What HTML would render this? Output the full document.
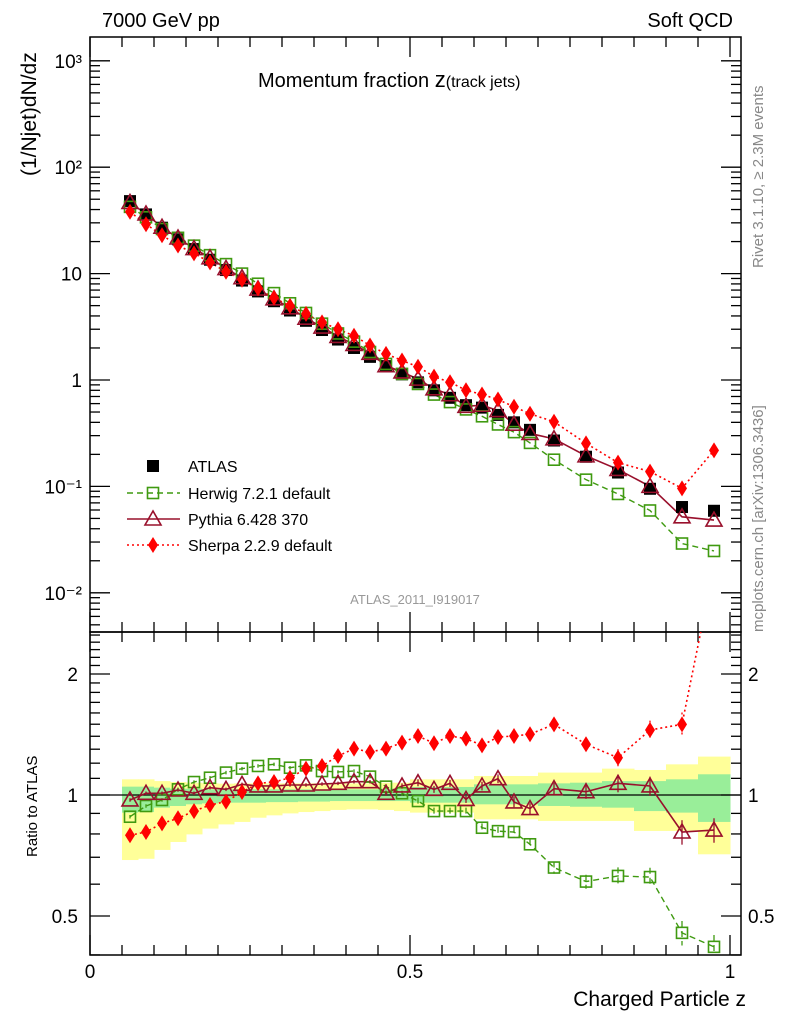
<!DOCTYPE html>
<html><head><meta charset="utf-8"><style>
body{margin:0;background:#fff}
svg text{font-family:"Liberation Sans",Arial,sans-serif}
</style></head><body>
<svg id="c" width="786" height="1024" xmlns="http://www.w3.org/2000/svg">
<defs>
<clipPath id="clipMain"><rect x="90" y="37" width="651" height="595"/></clipPath>
<clipPath id="clipRat"><rect x="90" y="632" width="651" height="323"/></clipPath>
</defs>
<g id="bands" clip-path="url(#clipRat)"></g>
<g id="axes"></g>
<g id="series"></g>
<text x="102" y="27" font-size="20">7000 GeV pp</text>
<text x="733" y="27" font-size="20" text-anchor="end">Soft QCD</text>
<text x="258" y="87" font-size="20">Momentum fraction <tspan font-size="22">z</tspan><tspan font-size="16">(track jets)</tspan></text>
<text x="415" y="604" font-size="13" fill="#999" text-anchor="middle">ATLAS_2011_I919017</text>
<text transform="translate(36,176) rotate(-90)" font-size="21">(1/Njet)dN/dz</text>
<text transform="translate(37,857) rotate(-90)" font-size="15">Ratio to ATLAS</text>
<text x="746" y="1006" font-size="21" text-anchor="end">Charged Particle z</text>
<text transform="translate(763,268) rotate(-90)" font-size="15" fill="#888">Rivet 3.1.10, ≥ 2.3M events</text>
<text transform="translate(763,632) rotate(-90)" font-size="15" fill="#888">mcplots.cern.ch [arXiv:1306.3436]</text>
</svg>
<script>
const zCenters=[0.0625,0.0875,0.1125,0.1375,0.1625,0.1875,0.2125,0.2375,0.2625,0.2875,0.3125,0.3375,0.3625,0.3875,0.4125,0.4375,0.4625,0.4875,0.5125,0.5375,0.5625,0.5875,0.6125,0.6375,0.6625,0.6875,0.725,0.775,0.825,0.875,0.925,0.975];
const zLo=[0.05,0.075,0.1,0.125,0.15,0.175,0.2,0.225,0.25,0.275,0.3,0.325,0.35,0.375,0.4,0.425,0.45,0.475,0.5,0.525,0.55,0.575,0.6,0.625,0.65,0.675,0.7,0.75,0.8,0.85,0.9,0.95];
const zHi=[0.075,0.1,0.125,0.15,0.175,0.2,0.225,0.25,0.275,0.3,0.325,0.35,0.375,0.4,0.425,0.45,0.475,0.5,0.525,0.55,0.575,0.6,0.625,0.65,0.675,0.7,0.75,0.8,0.85,0.9,0.95,1.0];
const atlas=[48,36,27,21,17,13.5,10.8,8.6,6.8,5.5,4.5,3.6,2.95,2.4,2.0,1.65,1.35,1.13,0.95,0.8,0.68,0.58,0.55,0.47,0.40,0.34,0.27,0.19,0.135,0.095,0.064,0.059];
const herwigRatio=[0.883,0.939,0.972,1.033,1.077,1.104,1.137,1.163,1.181,1.192,1.169,1.185,1.147,1.141,1.147,1.111,1.049,1.01,0.966,0.912,0.912,0.912,0.829,0.813,0.809,0.754,0.66,0.609,0.629,0.625,0.454,0.419];
const pythiaRatio=[0.972,1.01,1.01,1.029,1.01,1.043,1.033,1.063,1.053,1.053,1.059,1.059,1.065,1.069,1.079,1.079,1.01,1.053,1.073,1.033,1.069,0.975,1.053,1.098,0.961,0.925,1.037,1.019,1.069,1.053,0.809,0.818];
const sherpaRatio=[0.794,0.809,0.85,0.875,0.912,0.944,0.963,1.017,1.069,1.077,1.104,1.163,1.181,1.25,1.304,1.279,1.304,1.35,1.402,1.345,1.402,1.381,1.329,1.394,1.402,1.416,1.499,1.337,1.238,1.451,1.499,3.7];
const mcErr=[0.01,0.01,0.01,0.01,0.01,0.01,0.01,0.01,0.01,0.01,0.01,0.01,0.01,0.01,0.01,0.01,0.015,0.015,0.02,0.02,0.02,0.02,0.025,0.025,0.03,0.03,0.035,0.04,0.05,0.055,0.07,0.07];
const yellowHi=[1.094,1.094,1.083,1.077,1.073,1.069,1.067,1.069,1.069,1.069,1.069,1.069,1.069,1.069,1.069,1.069,1.073,1.073,1.094,1.094,1.094,1.094,1.115,1.115,1.115,1.115,1.137,1.137,1.163,1.154,1.192,1.246];
const greenHi=[1.049,1.049,1.043,1.037,1.037,1.033,1.033,1.033,1.033,1.033,1.033,1.033,1.033,1.033,1.033,1.033,1.037,1.037,1.047,1.047,1.047,1.047,1.063,1.063,1.063,1.063,1.069,1.073,1.083,1.083,1.094,1.126];
const greenLo=[0.904,0.907,0.93,0.939,0.948,0.953,0.957,0.957,0.957,0.96,0.96,0.963,0.963,0.966,0.966,0.966,0.966,0.966,0.957,0.957,0.957,0.957,0.948,0.948,0.948,0.948,0.939,0.935,0.93,0.912,0.904,0.857];
const yellowLo=[0.689,0.694,0.73,0.764,0.798,0.825,0.845,0.857,0.878,0.89,0.9,0.907,0.912,0.918,0.921,0.921,0.918,0.912,0.904,0.904,0.904,0.904,0.87,0.87,0.87,0.87,0.862,0.862,0.862,0.814,0.814,0.712];
const mainTicks=["10³","10²","10","1","10⁻¹","10⁻²"];
const mainTickVals=[1000,100,10,1,0.1,0.01];
const ratioTickVals=[2,1,0.5];
const ratioTickLabels=["2","1","0.5"];
const xTickVals=[0,0.5,1];
const xTickLabels=["0","0.5","1"];

const NS="http://www.w3.org/2000/svg";
const X=z=>90+z*640;
const Y=v=>380-Math.log10(v)*106.4;
const R=r=>795-Math.log2(r)*121;
function mk(tag,attrs,parent){const e=document.createElementNS(NS,tag);for(const k in attrs)e.setAttribute(k,attrs[k]);parent.appendChild(e);return e;}
const axes=document.getElementById('axes'),ser=document.getElementById('series'),bands=document.getElementById('bands');

for(let i=0;i<zLo.length;i++){
 let r=mk('rect',{x:X(zLo[i]),y:R(yellowHi[i]),width:X(zHi[i])-X(zLo[i])+0.5,height:R(yellowLo[i])-R(yellowHi[i]),fill:'#ffff99'},bands);
 
 
 let g=mk('rect',{x:X(zLo[i]),y:R(greenHi[i]),width:X(zHi[i])-X(zLo[i])+0.5,height:R(greenLo[i])-R(greenHi[i]),fill:'#99ee99'},bands);
 
 
}
let f1=mk('rect',{x:90,y:37,width:651,height:595,fill:'none',stroke:'#000','stroke-width':1.5},axes);


let f2=mk('rect',{x:90,y:632,width:651,height:323,fill:'none',stroke:'#000','stroke-width':1.5},axes);


mk('line',{x1:90,x2:741,y1:R(1),y2:R(1),stroke:'#000','stroke-width':1.3},axes);
for(let d=-3;d<=3;d++){for(let m=1;m<10;m++){const v=m*Math.pow(10,d);const y=Y(v);if(y<37||y>632)continue;const L=m==1?20:10;
 mk('line',{x1:90,x2:90+L,y1:y,y2:y,stroke:'#000','stroke-width':1.3},axes);
 mk('line',{x1:741-L,x2:741,y1:y,y2:y,stroke:'#000','stroke-width':1.3},axes);}}
for(let i=0;i<mainTickVals.length;i++){const t=mk('text',{x:82,y:Y(mainTickVals[i])+7,'font-size':19,'text-anchor':'end'},axes);t.textContent=mainTicks[i];
 
 }
for(let v=0.4;v<=2.6;v+=0.1){const vv=Math.round(v*10)/10;const y=R(vv);if(y<632||y>955)continue;const L=(vv==0.5||vv==1||vv==2)?20:10;
 mk('line',{x1:90,x2:90+L,y1:y,y2:y,stroke:'#000','stroke-width':1.3},axes);
 mk('line',{x1:741-L,x2:741,y1:y,y2:y,stroke:'#000','stroke-width':1.3},axes);}
for(let i=0;i<ratioTickVals.length;i++){const y=R(ratioTickVals[i])+7;
 const t=mk('text',{x:78,y:y,'font-size':19,'text-anchor':'end'},axes);t.textContent=ratioTickLabels[i];
 
 
 const t2=mk('text',{x:748,y:y,'font-size':19},axes);t2.textContent=ratioTickLabels[i];
 
 }
for(let k=0;k<=20;k++){const z=k*0.05,x=X(z);const L=(k%10==0)?20:10;
 for(const [yb,dir] of [[632,-1],[37,1],[955,-1],[632,1]]) mk('line',{x1:x,x2:x,y1:yb,y2:yb+dir*L,stroke:'#000','stroke-width':1.3},axes);}
for(let i=0;i<xTickVals.length;i++){const t=mk('text',{x:X(xTickVals[i]),y:978,'font-size':19,'text-anchor':'middle'},axes);t.textContent=xTickLabels[i];
 
 }

function marker(type,x,y,color,g){const s=6;
 if(type=='sq')return mk('rect',{x:x-s,y:y-s,width:2*s,height:2*s,fill:'#000'},g);
 if(type=='osq')return mk('rect',{x:x-s+0.5,y:y-s+0.5,width:2*s-1,height:2*s-1,fill:'none',stroke:color,'stroke-width':1.6},g);
 if(type=='tri')return mk('polygon',{points:`${x},${y-8} ${x-8},${y+6} ${x+8},${y+6}`,fill:'none',stroke:color,'stroke-width':1.6},g);
 if(type=='dia')return mk('polygon',{points:`${x},${y-8} ${x+5},${y} ${x},${y+8} ${x-5},${y}`,fill:color},g);}
const models=[
 {name:'herwig',ratio:herwigRatio,color:'#3f9a10',type:'osq',dash:'6,4',w:1.4},
 {name:'pythia',ratio:pythiaRatio,color:'#99102c',type:'tri',dash:'',w:1.6},
 {name:'sherpa',ratio:sherpaRatio,color:'#ff0000',type:'dia',dash:'2,3',w:1.6}];
const gm=mk('g',{'clip-path':'url(#clipMain)'},ser);
const gr=mk('g',{'clip-path':'url(#clipRat)'},ser);
for(const m of models){
 const ptsM=zCenters.map((z,i)=>`${X(z)},${Y(atlas[i]*m.ratio[i])}`).join(' ');
 const pl=mk('polyline',{points:ptsM,fill:'none',stroke:m.color,'stroke-width':m.w,'stroke-dasharray':m.dash},gm);
 
 
 const ptsR=zCenters.map((z,i)=>`${X(z)},${R(m.ratio[i])}`).join(' ');
 const pr=mk('polyline',{points:ptsR,fill:'none',stroke:m.color,'stroke-width':m.w,'stroke-dasharray':m.dash},gr);
 
 
}
for(let i=0;i<zCenters.length;i++){const mm=marker('sq',X(zCenters[i]),Y(atlas[i]),'#000',gm);
 
 }
for(const m of models){for(let i=0;i<zCenters.length;i++){
 const x=X(zCenters[i]);
 const a=marker(m.type,x,Y(atlas[i]*m.ratio[i]),m.color,gm);
 
 
 const r=m.ratio[i],e=mcErr[i]*r;
 mk('line',{x1:x,x2:x,y1:R(r+e),y2:R(r-e),stroke:m.color,'stroke-width':1.3,'stroke-dasharray':m.dash},gr);
 const b=marker(m.type,x,R(r),m.color,gr);
 
 
}}
const leg=mk('g',{},ser);


const legLabels=['ATLAS','Herwig 7.2.1 default','Pythia 6.428 370','Sherpa 2.2.9 default'];
const legY=[466,493,519,545];
marker('sq',153,legY[0],'#000',leg);
for(let k=0;k<3;k++){const m=models[k],y=legY[k+1];
 mk('line',{x1:127,x2:180,y1:y,y2:y,stroke:m.color,'stroke-width':m.w,'stroke-dasharray':m.dash},leg);
 marker(m.type,153,y,m.color,leg);}
for(let k=0;k<4;k++){const t=mk('text',{x:188,y:legY[k]+6,'font-size':16},leg);t.textContent=legLabels[k];
 
 }
</script>
</body></html>
